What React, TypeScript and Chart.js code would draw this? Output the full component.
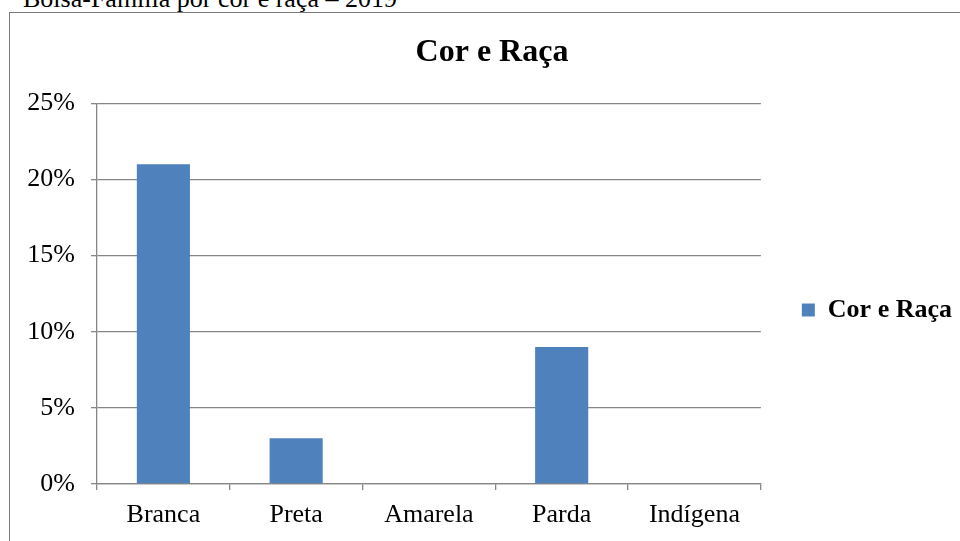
import React, { useEffect, useRef } from "react";
import { Chart, registerables } from "chart.js";

Chart.register(...registerables);

const categories = ["Branca", "Preta", "Amarela", "Parda", "Indígena"];
const seriesName = "Cor e Raça";
const seriesValues = [21, 3, 0, 9, 0];
const yTicks = [0, 5, 10, 15, 20, 25];
const chartTitle = "Cor e Raça";
const caption = "Bolsa-Família por cor e raça – 2019";

const FONT = "'Liberation Serif', 'Times New Roman', serif";
const GRID = "#868686";

const titleShift = {
  id: "titleShift",
  afterLayout(chart: any) {
    const t = chart.titleBlock;
    if (t) {
      t.left += 6;
      t.right += 6;
    }
  },
};

export default function App() {
  const ref = useRef<HTMLCanvasElement | null>(null);

  useEffect(() => {
    if (!ref.current) return;
    const chart = new Chart(ref.current, {
      type: "bar",
      data: {
        labels: categories,
        datasets: [
          {
            label: seriesName,
            data: seriesValues,
            backgroundColor: "#4F81BD",
            borderWidth: 0,
            barPercentage: 0.4,
            categoryPercentage: 1,
          },
        ],
      },
      plugins: [titleShift],
      options: {
        animation: false,
        responsive: false,
        maintainAspectRatio: false,
        devicePixelRatio: 1,
        layout: { padding: { left: 0, right: 12, top: 0, bottom: 0 } },
        plugins: {
          tooltip: { enabled: false },
          title: {
            display: true,
            text: chartTitle,
            color: "#000",
            font: { family: FONT, size: 32, weight: "bold" },
            padding: { top: 21, bottom: 31 },
          },
          legend: {
            display: true,
            position: "right",
            labels: {
              boxWidth: 13,
              boxHeight: 13,
              padding: 41,
              color: "#000",
              font: { family: FONT, size: 26, weight: "bold" },
            },
          },
        },
        scales: {
          x: {
            offset: true,
            grid: {
              display: true,
              offset: true,
              drawOnChartArea: false,
              drawTicks: true,
              tickLength: 6,
              color: GRID,
              lineWidth: 1.3,
            },
            border: { display: true, color: GRID, width: 1.3 },
            ticks: {
              color: "#000",
              padding: 10,
              font: { family: FONT, size: 26 },
            },
            afterFit: (s: any) => {
              s.height = 123;
            },
          },
          y: {
            min: 0,
            max: 25,
            afterBuildTicks: (s: any) => {
              s.ticks = yTicks.map((v) => ({ value: v }));
            },
            grid: {
              color: GRID,
              lineWidth: 1.3,
              drawTicks: true,
              tickLength: 6,
            },
            border: { display: true, color: GRID, width: 1.3 },
            ticks: {
              color: "#000",
              padding: 16,
              font: { family: FONT, size: 26 },
              callback: (v: any) => v + "%",
            },
            afterFit: (s: any) => {
              s.width = 87;
            },
          },
        },
      },
    });
    return () => chart.destroy();
  }, []);

  return (
    <div
      style={{
        position: "fixed",
        left: 0,
        top: 0,
        width: 960,
        height: 541,
        overflow: "hidden",
        background: "#fff",
      }}
    >
      <div
        style={{
          position: "absolute",
          left: 23,
          top: -14,
          fontFamily: FONT,
          fontSize: 26,
          lineHeight: "26px",
          whiteSpace: "nowrap",
          color: "#000",
        }}
      >
        {caption}
      </div>
      <div
        style={{
          position: "absolute",
          left: 9,
          top: 12,
          width: 1000,
          height: 600,
          border: "1px solid #7a7a7a",
          boxSizing: "border-box",
        }}
      />
      <canvas
        ref={ref}
        width={964}
        height={594}
        style={{ position: "absolute", left: 10, top: 13, width: 964, height: 594 }}
      />
    </div>
  );
}
